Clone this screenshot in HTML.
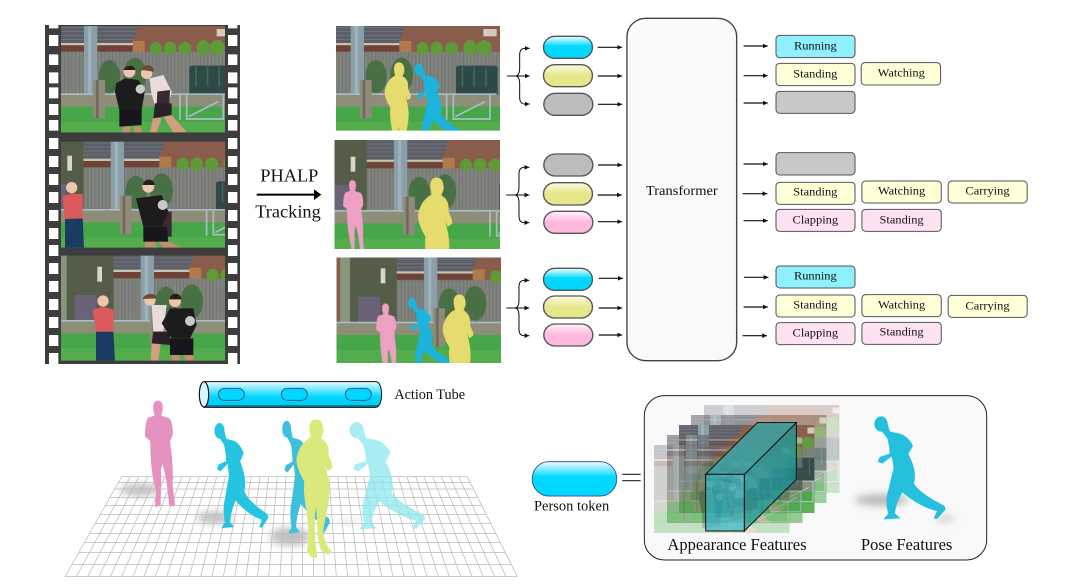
<!DOCTYPE html>
<html><head><meta charset="utf-8"><title>Action Tube diagram</title>
<style>html,body{margin:0;padding:0;background:#fff;width:1088px;height:588px;overflow:hidden}svg{display:block}text{font-family:"Liberation Serif",serif;fill:#111}</style></head>
<body>
<svg width="1088" height="588" viewBox="0 0 1088 588" xmlns="http://www.w3.org/2000/svg">
<defs>
<filter id="soft" x="-5%" y="-5%" width="110%" height="110%"><feGaussianBlur stdDeviation="1"/></filter>
<filter id="shad" x="-80%" y="-150%" width="260%" height="400%"><feGaussianBlur stdDeviation="11"/></filter>
<linearGradient id="gc" x1="0" y1="0" x2="0" y2="1"><stop offset="0" stop-color="#f2fdff"/><stop offset=".45" stop-color="#00d8ff"/><stop offset="1" stop-color="#00d8ff"/></linearGradient>
<linearGradient id="gy" x1="0" y1="0" x2="0" y2="1"><stop offset="0" stop-color="#fbfbe6"/><stop offset=".5" stop-color="#e6e68a"/><stop offset="1" stop-color="#e6e68a"/></linearGradient>
<linearGradient id="gp" x1="0" y1="0" x2="0" y2="1"><stop offset="0" stop-color="#fff2fa"/><stop offset=".5" stop-color="#ffb9df"/><stop offset="1" stop-color="#ffb9df"/></linearGradient>
<linearGradient id="gt" x1="0" y1="0" x2="0" y2="1"><stop offset="0" stop-color="#e8fbff"/><stop offset=".6" stop-color="#00d8ff"/><stop offset=".9" stop-color="#00cdf2"/><stop offset=".92" stop-color="#0a7f98"/><stop offset="1" stop-color="#0a7f98"/></linearGradient>
<pattern id="fence" width="11" height="200" patternUnits="userSpaceOnUse"><rect width="11" height="200" fill="#80827d"/><rect width="2" height="200" fill="#6c6e6a"/></pattern>
<pattern id="roof" width="10" height="12" patternUnits="userSpaceOnUse"><rect width="10" height="12" fill="#5c5e68"/><rect width="10" height="2" fill="#787a82"/></pattern>
<clipPath id="c1"><rect x="93" y="33" width="492" height="319"/></clipPath>
<clipPath id="c2"><rect x="93" y="380" width="492" height="318"/></clipPath>
<clipPath id="c3"><rect x="93" y="722" width="492" height="315"/></clipPath>
<clipPath id="t1"><rect x="918" y="33" width="492" height="314"/></clipPath>
<clipPath id="t2"><rect x="915" y="376" width="495" height="325"/></clipPath>
<clipPath id="t3"><rect x="921" y="729" width="492" height="314"/></clipPath>
<marker id="ah" viewBox="0 0 10 10" refX="10" refY="5" markerWidth="14" markerHeight="14" markerUnits="userSpaceOnUse" orient="auto"><path d="M0 0L10 5L0 10Z" fill="#111"/></marker>

<g id="world">
<rect x="-400" y="-60" width="900" height="440" fill="#8a5b4c"/>
<polygon points="-100,-60 185,-60 125,85 -100,85" fill="url(#roof)"/>
<rect x="-100" y="84" width="260" height="7" fill="#c8c2b4"/>
<rect x="-100" y="91" width="240" height="20" fill="#6e4236"/>
<rect x="128" y="78" width="36" height="36" fill="#b07a4e"/>
<rect x="380" y="42" width="40" height="22" fill="#d5c8bc"/>
<rect x="-100" y="110" width="530" height="130" fill="url(#fence)"/>
<g fill="#5f9a38"><ellipse cx="198" cy="100" rx="18" ry="19"/><ellipse cx="240" cy="100" rx="19" ry="20"/><ellipse cx="285" cy="100" rx="20" ry="19"/><ellipse cx="340" cy="98" rx="20" ry="23"/><ellipse cx="382" cy="98" rx="23" ry="23"/></g>
<g fill="#4a6f45"><ellipse cx="58" cy="185" rx="32" ry="50"/><ellipse cx="135" cy="180" rx="34" ry="52"/></g>
<rect x="-270" y="-60" width="170" height="300" fill="#525d47"/>
<rect x="-270" y="-60" width="30" height="300" fill="#87967d"/>
<rect x="-148" y="75" width="14" height="45" fill="#d8d8c8"/>
<rect x="-216" y="160" width="66" height="90" fill="#6b6478"/>
<rect x="-18" y="-60" width="40" height="295" fill="#8a9fa8"/>
<rect x="-6" y="-60" width="10" height="295" fill="#9db2ba"/>
<rect x="298" y="152" width="125" height="100" rx="8" fill="#2d4846"/>
<g fill="#48635f"><rect x="315" y="155" width="5" height="60"/><rect x="350" y="155" width="5" height="60"/><rect x="385" y="155" width="5" height="60"/></g>
<rect x="-400" y="240" width="900" height="40" fill="#8e8e78"/>
<rect x="-400" y="275" width="900" height="110" fill="#47a64a"/>
<rect x="-400" y="320" width="900" height="60" fill="#52ad4e"/>
<rect x="-400" y="235" width="820" height="5" fill="#a9bec2"/>
<rect x="10" y="195" width="35" height="115" fill="#8f8b78"/>
<rect x="18" y="195" width="8" height="115" fill="#6f6b5c"/>
<g fill="none" stroke="#a9bec2" stroke-width="5"><path d="M270 240V315M290 240V315M400 240V315M292 312H402M296 305L385 260"/></g>
</g>

<g id="runner">
<ellipse cx="1068" cy="117" rx="20" ry="23"/>
<path d="M1060,128 L1088,118 L1095,140 L1125,146 C1145,152 1160,172 1164,183 L1150,207 C1165,235 1175,265 1167,295 C1180,320 1225,345 1258,362 L1262,373 L1236,402 L1226,400 L1236,378 C1205,372 1165,350 1132,322 C1122,340 1112,360 1110,385 L1126,400 L1075,403 L1090,386 C1082,360 1083,335 1090,315 C1096,290 1100,270 1106,250 C1104,235 1102,225 1100,214 L1072,236 L1058,230 L1064,216 L1094,206 C1094,190 1090,170 1086,158 Z"/>
</g>
<path id="stand" d="M768,133 C785,133 792,150 790,172 L783,190 C800,198 808,215 806,240 C810,255 820,265 816,280 L803,288 L795,268 C802,295 810,330 808,355 C806,395 795,430 790,465 C790,490 800,515 815,530 L805,540 L785,528 C775,510 772,480 772,450 L768,395 C762,430 762,480 772,548 L755,548 L740,530 C748,500 745,450 738,400 C733,370 730,345 733,320 L722,300 C712,275 706,260 712,240 C718,215 735,195 752,188 C752,180 748,170 748,158 C748,145 755,133 768,133 Z"/>
<path id="pink" d="M293,77 C305,77 310,90 308,105 L304,122 L328,130 C338,140 339,165 338,182 L330,198 C333,225 340,265 338,310 C336,340 345,375 345,390 L328,394 L322,340 C318,310 314,290 308,268 L303,280 C304,320 302,360 302,392 L285,396 L288,350 C280,320 272,270 272,240 C270,220 272,205 270,197 L255,185 C255,160 258,135 265,128 L284,122 L280,105 C278,90 282,77 293,77 Z"/>

<g id="scene1" clip-path="url(#c1)">
<use href="#world" transform="translate(180,0)"/>
<path d="M278 335L302 335L300 352L278 352ZM310 335L334 335L336 352L312 352Z" fill="#c48c70"/>
<polygon points="258,205 285,190 325,195 345,225 335,285 268,285 255,230" fill="#1c1a1d"/>
<polygon points="268,285 335,285 335,330 268,335" fill="#17151a"/>
<circle cx="298" cy="170" r="18" fill="#efc5b0"/><path d="M281 165C283 150 312 145 316 165Z" fill="#2a1f1a"/>
<circle cx="331" cy="222" r="14" fill="#c9cbc4"/>
<polygon points="370,305 395,310 380,352 360,352" fill="#d39d80"/><polygon points="400,305 425,300 470,352 430,352" fill="#d39d80"/>
<polygon points="358,190 400,180 425,230 415,270 375,270 365,240" fill="#e8dcd8"/>
<polygon points="382,230 420,225 418,270 380,270" fill="#3a2a30"/>
<polygon points="375,265 425,265 425,300 370,310" fill="#2b2228"/>
<circle cx="350" cy="175" r="17" fill="#efc5b0"/><path d="M335 165C340 145 372 145 372 170Z" fill="#6e4a30"/>
</g>
</defs>

<!-- film strip -->
<g transform="translate(30,15) scale(.33333)">
<rect x="45" y="30" width="585" height="1017" fill="#3d3d3d"/>
<path fill="#fff" d="M57 30h28v10h-28zM594 30h28v10h-28zM57 60h28v33h-28zM57 118h28v32h-28zM57 172h28v33h-28zM57 217h28v33h-28zM57 267h28v33h-28zM57 315h28v32h-28zM57 369h28v33h-28zM57 423h28v33h-28zM57 477h28v33h-28zM57 531h28v33h-28zM57 585h28v33h-28zM57 639h28v33h-28zM57 690h28v33h-28zM57 744h28v33h-28zM57 798h28v33h-28zM57 852h28v33h-28zM57 906h28v33h-28zM57 960h28v33h-28zM57 1014h28v33h-28zM594 60h28v33h-28zM594 118h28v32h-28zM594 172h28v33h-28zM594 217h28v33h-28zM594 267h28v33h-28zM594 315h28v32h-28zM594 369h28v33h-28zM594 423h28v33h-28zM594 477h28v33h-28zM594 531h28v33h-28zM594 585h28v33h-28zM594 639h28v33h-28zM594 690h28v33h-28zM594 744h28v33h-28zM594 798h28v33h-28zM594 852h28v33h-28zM594 906h28v33h-28zM594 960h28v33h-28zM594 1014h28v33h-28z"/>
<g filter="url(#soft)"><use href="#scene1"/></g>
<g clip-path="url(#c2)"><g filter="url(#soft)">
<use href="#world" transform="translate(260,347)"/>
<polygon points="105,610 158,610 162,698 105,698" fill="#1f3b62"/>
<polygon points="97,545 125,535 158,538 158,610 105,612" fill="#dd5a5c"/>
<circle cx="125" cy="518" r="17" fill="#efc5b0"/>
<polygon points="395,590 425,590 425,665 395,665" fill="#3a2a30"/>
<path d="M345 680L375 680L380 698H345ZM385 680L415 680L460 698H400Z" fill="#c48c70"/>
<polygon points="318,550 395,540 415,590 395,635 340,635" fill="#1c1a1d"/>
<polygon points="340,635 410,635 415,680 340,680" fill="#17151a"/>
<circle cx="355" cy="515" r="18" fill="#efc5b0"/><path d="M338 510C342 488 372 488 374 510Z" fill="#2a1f1a"/>
<circle cx="398" cy="570" r="15" fill="#c9cbc4"/>
</g></g>
<g clip-path="url(#c3)"><g filter="url(#soft)">
<use href="#world" transform="translate(350,680)"/>
<polygon points="198,950 250,950 255,1037 198,1037" fill="#1f3b62"/>
<polygon points="188,885 219,875 252,885 250,950 198,950" fill="#dd5a5c"/>
<circle cx="219" cy="858" r="17" fill="#efc5b0"/>
<polygon points="365,985 392,985 385,1037 362,1037" fill="#d39d80"/>
<polygon points="365,870 410,870 400,950 370,950" fill="#e8dcd8"/>
<polygon points="370,950 420,950 420,990 365,985" fill="#2b2228"/>
<circle cx="360" cy="855" r="17" fill="#efc5b0"/><path d="M338 852C345 832 378 832 380 850Z" fill="#6e4a30"/>
<path d="M425 1020H450L448 1037H425ZM462 1020H490L492 1037H465Z" fill="#c48c70"/>
<polygon points="395,925 420,880 490,880 500,930 480,970 425,970" fill="#1c1a1d"/>
<polygon points="420,970 490,970 490,1020 420,1020" fill="#17151a"/>
<circle cx="435" cy="858" r="18" fill="#efc5b0"/><path d="M418 853C422 830 452 830 454 853Z" fill="#2a1f1a"/>
<circle cx="480" cy="918" r="15" fill="#c9cbc4"/>
</g></g>

<g clip-path="url(#t1)"><g filter="url(#soft)">
<use href="#world" transform="translate(980,0)"/>
<use href="#stand" fill="#e6dc6e" transform="translate(546,45) scale(.73)"/>
<use href="#runner" fill="#1fb4dc" transform="translate(462,75) scale(.66,.75)"/>
</g></g>
<g clip-path="url(#t2)"><g filter="url(#soft)">
<use href="#world" transform="translate(1110,350)"/>
<use href="#pink" fill="#eea0c4" transform="translate(756,440) scale(.72)"/>
<use href="#stand" fill="#e6dc6e" transform="translate(490,361) scale(.95)"/>
</g></g>
<g clip-path="url(#t3)"><g filter="url(#soft)">
<use href="#world" transform="translate(1200,685)"/>
<use href="#pink" fill="#eea0c4" transform="translate(855,810) scale(.72)"/>
<use href="#runner" fill="#1fb4dc" transform="translate(505,782) scale(.6,.7)"/>
<use href="#stand" fill="#e6dc6e" transform="translate(635,725) scale(.85)"/>
</g></g>

<text x="778" y="500" font-size="55" text-anchor="middle">PHALP</text>
<text x="774" y="607" font-size="55" text-anchor="middle">Tracking</text>
<rect x="680" y="536" width="175" height="6" fill="#000"/>
<polygon points="852,523 874,539 852,555" fill="#000"/>
</g>

<!-- pipeline -->
<g transform="translate(500,10) scale(.345,.33333)">
<rect x="368" y="25" width="318" height="1027" rx="55" fill="#f9f9f9" stroke="#444" stroke-width="4"/>
<text x="527" y="555" font-size="42" text-anchor="middle">Transformer</text>

<g stroke="#555" stroke-width="4">
<rect x="126" y="79" width="142" height="66" rx="33" fill="url(#gc)"/>
<rect x="126" y="164" width="142" height="66" rx="33" fill="url(#gy)"/>
<rect x="127" y="250" width="142" height="66" rx="33" fill="#bcbcbc"/>
<rect x="127" y="432" width="142" height="66" rx="33" fill="#bcbcbc"/>
<rect x="126" y="518" width="142" height="67" rx="33" fill="url(#gy)"/>
<rect x="127" y="604" width="142" height="66" rx="33" fill="url(#gp)"/>
<rect x="126" y="775" width="142" height="66" rx="33" fill="url(#gc)"/>
<rect x="126" y="858" width="142" height="66" rx="33" fill="url(#gy)"/>
<rect x="127" y="942" width="142" height="66" rx="33" fill="url(#gp)"/>
</g>

<g stroke="#111" stroke-width="3.5" fill="none" marker-end="url(#ah)">
<path d="M283 112H354"/><path d="M283 198H354"/><path d="M284 283H354"/>
<path d="M284 465H354"/><path d="M283 555H353"/><path d="M284 635H354"/>
<path d="M286 805H356"/><path d="M286 894H354"/><path d="M286 975H354"/>
<path d="M706 108H776"/><path d="M706 197H776"/><path d="M706 279H776"/>
<path d="M706 462H776"/><path d="M703 551H775"/><path d="M706 632H776"/>
<path d="M707 802H778"/><path d="M706 891H776"/><path d="M703 977H774"/>
<path d="M20 198H86" stroke-width="3"/><path d="M18 555H85" stroke-width="3"/><path d="M18 894H85" stroke-width="3"/>
<path d="M45 198C52 198 57 190 57 175V135C57 122 62 115 72 115H86" stroke-width="3"/>
<path d="M45 198C52 198 57 206 57 221V262C57 274 62 282 72 282H86" stroke-width="3"/>
<path d="M43 555C50 555 55 547 55 532V492C55 479 60 472 70 472H85" stroke-width="3"/>
<path d="M43 555C50 555 55 563 55 578V618C55 631 60 638 70 638H85" stroke-width="3"/>
<path d="M43 894C50 894 55 886 55 871V831C55 818 60 811 70 811H85" stroke-width="3"/>
<path d="M43 894C50 894 55 902 55 917V957C55 970 60 977 70 977H85" stroke-width="3"/>
</g>

<g stroke="#555" stroke-width="3">
<rect x="800" y="76" width="229" height="67" rx="11" fill="#8ff0ff"/>
<rect x="800" y="160" width="229" height="67" rx="11" fill="#ffffd8"/>
<rect x="1047" y="158" width="230" height="67" rx="11" fill="#ffffd8"/>
<rect x="800" y="244" width="229" height="66" rx="11" fill="#c8c8c8"/>
<rect x="800" y="428" width="229" height="67" rx="11" fill="#c8c8c8"/>
<rect x="800" y="517" width="229" height="66" rx="11" fill="#ffffd8"/>
<rect x="1049" y="513" width="230" height="66" rx="11" fill="#ffffd8"/>
<rect x="1299" y="513" width="229" height="66" rx="11" fill="#ffffd8"/>
<rect x="800" y="598" width="229" height="66" rx="11" fill="#ffe2f1"/>
<rect x="1049" y="598" width="230" height="66" rx="11" fill="#ffe2f1"/>
<rect x="800" y="768" width="229" height="66" rx="11" fill="#8ff0ff"/>
<rect x="800" y="855" width="229" height="66" rx="11" fill="#ffffd8"/>
<rect x="1049" y="854" width="230" height="66" rx="11" fill="#ffffd8"/>
<rect x="1299" y="856" width="229" height="66" rx="11" fill="#ffffd8"/>
<rect x="800" y="938" width="229" height="66" rx="11" fill="#ffe2f1"/>
<rect x="1049" y="937" width="230" height="66" rx="11" fill="#ffe2f1"/>
</g>
<g font-size="36" text-anchor="middle">
<text x="914" y="119">Running</text>
<text x="914" y="203">Standing</text>
<text x="1163" y="199">Watching</text>
<text x="914" y="557">Standing</text>
<text x="1164" y="553">Watching</text>
<text x="1413" y="554">Carrying</text>
<text x="914" y="641">Clapping</text>
<text x="1164" y="641">Standing</text>
<text x="914" y="809">Running</text>
<text x="914" y="896">Standing</text>
<text x="1164" y="896">Watching</text>
<text x="1413" y="899">Carrying</text>
<text x="914" y="980">Clapping</text>
<text x="1164" y="977">Standing</text>
</g>
</g>

<!-- bottom left scene -->
<g transform="translate(60,375) scale(.33333)">
<g filter="url(#shad)" fill="#777" opacity=".45">
<ellipse cx="240" cy="345" rx="60" ry="18"/>
<ellipse cx="465" cy="428" rx="55" ry="18"/>
<ellipse cx="690" cy="485" rx="60" ry="28"/>
<ellipse cx="870" cy="440" rx="40" ry="10" opacity=".3"/>
</g>
<g fill="none" stroke="#bbb" stroke-width="2.2">
<path d="M185 305H1222M175 322H1231M164 342H1240M149 368H1253M136 392H1266M121 418H1279M106 445H1292M89 475H1307M73 503H1321M56 533H1336M36 568H1354M15 605H1372"/>
<path d="M185 305L15 605M211 305L49 605M237 305L83 605M263 305L117 605M289 305L151 605M315 305L185 605M341 305L219 605M366 305L252 605M392 305L286 605M418 305L320 605M444 305L354 605M470 305L388 605M496 305L422 605M522 305L456 605M548 305L490 605M574 305L524 605M600 305L558 605M626 305L592 605M652 305L626 605M678 305L660 605M704 305L694 605M729 305L727 605M755 305L761 605M781 305L795 605M807 305L829 605M833 305L863 605M859 305L897 605M885 305L931 605M911 305L965 605M937 305L999 605M963 305L1033 605M989 305L1067 605M1015 305L1101 605M1041 305L1135 605M1067 305L1168 605M1092 305L1202 605M1118 305L1236 605M1144 305L1270 605M1170 305L1304 605M1196 305L1338 605M1222 305L1372 605"/>
</g>
<use href="#pink" fill="#e592c0"/>
</g>
<use href="#runner" fill="#25c4e0" transform="translate(-49.2,391.1) scale(.2516,.34)"/>
<use href="#runner" fill="#8be8ee" opacity=".75" transform="translate(-21.5,389.5) scale(.354,.347)"/>
<use href="#runner" fill="#3cc0dc" transform="translate(48.5,386.4) scale(.223,.365)"/>
<g transform="translate(60,375) scale(.33333)">
<use href="#stand" fill="#dbe87c"/>
<path d="M432 20H948C958 20 965 38 965 58C965 78 958 97 948 97H432Z" fill="url(#gt)" stroke="#111" stroke-width="3"/>
<ellipse cx="432" cy="58" rx="14" ry="38" fill="#d6f8fd" stroke="#111" stroke-width="3.5"/>
<g fill="#00d8ff" stroke="#2a5a9a" stroke-width="3">
<rect x="475" y="40" width="78" height="36" rx="18"/>
<rect x="664" y="40" width="78" height="36" rx="18"/>
<rect x="856" y="40" width="78" height="36" rx="18"/>
</g>
<text x="1003" y="72" font-size="42.7">Action Tube</text>
</g>

<!-- bottom right panel -->
<g transform="translate(525,385) scale(.33333)">
<rect x="22" y="230" width="253" height="103" rx="50" fill="url(#gc)" stroke="#3a5a9a" stroke-width="3"/>
<text x="27" y="377" font-size="43.5">Person token</text>
<path d="M292 268H347M292 287H347" stroke="#222" stroke-width="3.5"/>
<rect x="358" y="32" width="1027" height="493" rx="60" fill="#f9f9f9" stroke="#222" stroke-width="3"/>
<g filter="url(#soft)">
<use href="#scene1" opacity=".28" transform="translate(460.3,32.8) scale(.825)"/>
<use href="#scene1" opacity=".55" transform="translate(421.3,62.8) scale(.825)"/>
<use href="#scene1" opacity=".95" transform="translate(385.3,92.8) scale(.825)"/>
<use href="#scene1" opacity=".6" transform="translate(349.3,122.8) scale(.825)"/>
<use href="#scene1" opacity=".32" transform="translate(310.3,152.8) scale(.825)"/>
</g>
<polygon points="658,268 814,113 814,283 658,438" fill="#1f9a9e" fill-opacity=".75" stroke="#111" stroke-width="3"/>
<polygon points="542,268 697,113 814,113 658,268" fill="#3ba2a6" fill-opacity=".85" stroke="#111" stroke-width="3"/>
<rect x="542" y="268" width="116" height="170" fill="#37b8c8" fill-opacity=".72" stroke="#111" stroke-width="3"/>
<ellipse cx="1070" cy="345" rx="80" ry="18" fill="#888" opacity=".55" filter="url(#shad)"/>
<ellipse cx="1260" cy="400" rx="30" ry="12" fill="#aaa" opacity=".45" filter="url(#shad)"/>
<use href="#runner" fill="#25c0de"/>
<text x="636" y="495" font-size="49.7" text-anchor="middle">Appearance Features</text>
<text x="1145" y="495" font-size="49.7" text-anchor="middle">Pose Features</text>
</g>
</svg>
</body></html>
